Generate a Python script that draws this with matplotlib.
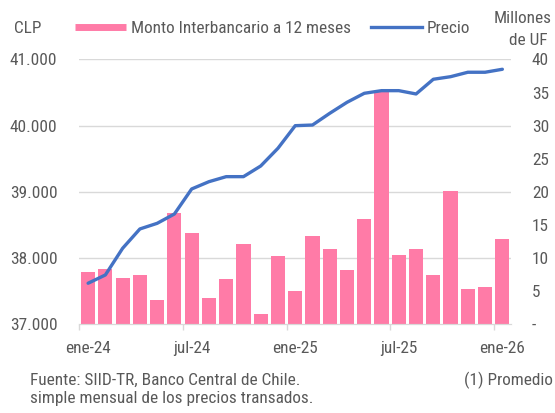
import numpy as np
import matplotlib.pyplot as plt
from matplotlib.lines import Line2D

plt.rcParams['font.family'] = ['Roboto Condensed', 'DejaVu Sans']

# datos mensuales ene-24 .. ene-26
meses = ['ene-24', 'feb-24', 'mar-24', 'abr-24', 'may-24', 'jun-24', 'jul-24',
         'ago-24', 'sep-24', 'oct-24', 'nov-24', 'dic-24', 'ene-25', 'feb-25',
         'mar-25', 'abr-25', 'may-25', 'jun-25', 'jul-25', 'ago-25', 'sep-25',
         'oct-25', 'nov-25', 'dic-25', 'ene-26']
monto = [7.9, 8.3, 7.0, 7.4, 3.6, 16.8, 13.8, 4.0, 6.9, 12.2, 1.5, 10.3, 5.0,
         13.3, 11.3, 8.2, 15.9, 35.1, 10.5, 11.3, 7.4, 20.1, 5.4, 5.7, 12.9]
precio = [37620, 37745, 38148, 38440, 38525, 38666, 39044, 39154, 39230, 39230,
          39391, 39659, 40000, 40010, 40187, 40353, 40489, 40529, 40529, 40479,
          40701, 40740, 40807, 40807, 40852]
clp_ticks = [37000, 38000, 39000, 40000, 41000]
clp_labels = ['37.000', '38.000', '39.000', '40.000', '41.000']
uf_ticks = [0, 5, 10, 15, 20, 25, 30, 35, 40]
uf_labels = ['-', '5', '10', '15', '20', '25', '30', '35', '40']

pink = '#ff7ba7'
blue = '#4472c4'
txt = '#595959'
grid = '#d9d9d9'
fs = 12.4

fig = plt.figure(figsize=(5.55, 4.13), dpi=100)
ax = fig.add_axes([0.1432, 0.2148, 0.7775, 0.6412])
ax2 = ax.twinx()

x = np.arange(len(meses))
ax2.bar(x, monto, width=0.82, color=pink, zorder=2)
ax2.set_ylim(0, 40)
ax2.set_yticks(uf_ticks)
ax2.set_yticklabels(uf_labels)

ax.set_zorder(ax2.get_zorder() + 1)
ax.patch.set_visible(False)
ax.plot(x, precio, color=blue, linewidth=2.4, solid_capstyle='round')
ax.set_ylim(37000, 41000)
ax.set_yticks(clp_ticks)
ax.set_yticklabels(clp_labels)
ax.set_xlim(-0.5, len(meses) - 0.5)

for g in clp_ticks[1:]:
    ax2.axhline((g - 37000) / 100, color=grid, linewidth=1, zorder=0)

ax.set_xticks(x[::6])
ax.set_xticklabels([meses[i] for i in x[::6]])
ax.set_xticks(x[::6] - 0.5, minor=True)
ax.tick_params(axis='x', which='major', length=0, pad=12, labelsize=fs, labelcolor=txt)
ax.tick_params(axis='x', which='minor', length=4, color=grid, width=1)
ax.tick_params(axis='y', length=0, pad=16, labelsize=fs, labelcolor=txt)
ax2.tick_params(axis='y', length=0, pad=15, labelsize=fs, labelcolor=txt)

for a in (ax, ax2):
    for s in ['top', 'left', 'right']:
        a.spines[s].set_visible(False)
    a.spines['bottom'].set_color(grid)

fig.text(0.025, 0.932, 'CLP', fontsize=fs, color=txt, va='center')
fig.text(0.942, 0.956, 'Millones', fontsize=fs, color=txt, ha='center', va='center')
fig.text(0.951, 0.903, 'de UF', fontsize=fs, color=txt, ha='center', va='center')

handles = [Line2D([], [], color=pink, linewidth=5, solid_capstyle='butt'),
           Line2D([], [], color=blue, linewidth=2.4)]
fig.legend(handles, ['Monto Interbancario a 12 meses', 'Precio'],
           loc='center left', bbox_to_anchor=(0.135, 0.932), ncol=2,
           frameon=False, fontsize=fs, labelcolor=txt, handlelength=2.95,
           handletextpad=0.3, columnspacing=1.15, borderpad=0, borderaxespad=0)

fig.text(0.054, 0.080, 'Fuente: SIID-TR, Banco Central de Chile.', fontsize=fs,
         color=txt, va='center')
fig.text(0.054, 0.036, 'simple mensual de los precios transados.', fontsize=fs,
         color=txt, va='center')
fig.text(0.997, 0.080, '(1) Promedio', fontsize=fs, color=txt, va='center', ha='right')

plt.savefig('out.png', dpi=100)
plt.close()
